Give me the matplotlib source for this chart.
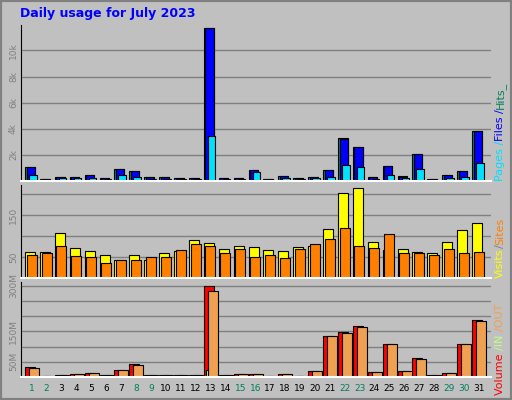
import numpy as np
import matplotlib
matplotlib.use("Agg")
import matplotlib.pyplot as plt
from matplotlib.patches import Rectangle

days = list(range(1, 32))
weekends = [1, 2, 8, 9, 15, 16, 22, 23, 29, 30]

hits = [1.1, 0.15, 0.33, 0.33, 0.49, 0.26, 0.95, 0.8, 0.33, 0.33, 0.26, 0.26, 11.7, 0.26, 0.26,
        0.87, 0.18, 0.41, 0.26, 0.33, 0.87, 3.26, 2.64, 0.33, 1.18, 0.41, 2.1, 0.15, 0.49, 0.8, 3.8]
files = [1.1, 0.15, 0.33, 0.3, 0.49, 0.26, 0.95, 0.8, 0.33, 0.33, 0.26, 0.26, 11.7, 0.26, 0.26,
         0.87, 0.18, 0.41, 0.26, 0.33, 0.87, 3.18, 2.64, 0.33, 1.18, 0.33, 2.1, 0.15, 0.49, 0.8, 3.8]
pages = [0.49, 0.05, 0.23, 0.2, 0.23, 0.18, 0.49, 0.33, 0.18, 0.18, 0.13, 0.15, 3.46, 0.18, 0.18,
         0.7, 0.1, 0.25, 0.18, 0.2, 0.33, 1.26, 1.1, 0.18, 0.49, 0.25, 0.95, 0.1, 0.25, 0.33, 1.41]

visits = [61, 61, 107, 71, 64, 56, 42, 54, 44, 59, 64, 90, 83, 69, 76,
          73, 66, 64, 73, 76, 117, 204, 214, 85, 66, 69, 61, 59, 85, 115, 131]
sites = [56, 59, 76, 52, 49, 37, 42, 42, 49, 49, 66, 81, 76, 59, 69,
         49, 54, 47, 69, 81, 93, 119, 76, 71, 105, 59, 59, 54, 69, 59, 61]

volume = [34, 3, 8, 11, 14, 8, 24, 44, 8, 8, 8, 8, 299, 8, 11,
          11, 4, 11, 4, 21, 136, 147, 167, 18, 110, 21, 64, 8, 14, 110, 187]
vol_out = [31, 3, 8, 11, 14, 8, 24, 41, 8, 8, 8, 8, 281, 8, 11,
           11, 4, 11, 4, 21, 136, 144, 163, 18, 110, 21, 60, 8, 14, 107, 183]
vol_in = [0] * 12 + [22] + [0] * 18

BG = "#C0C0C0"
W, H = 512, 400
fig = plt.figure(figsize=(5.12, 4.0), dpi=100, facecolor=BG)

# outer bevel
fig.patches.append(Rectangle((0, 0), 1, 1, transform=fig.transFigure, fill=False,
                             edgecolor="#808080", linewidth=3))

fig.text(20 / W, 1 - 14 / H, "Daily usage for July 2023", color="#0000FF",
         fontsize=9, fontweight="bold", va="center", ha="left")


def px_axes(left, top, right, bottom):
    return fig.add_axes([left / W, 1 - bottom / H, (right - left) / W, (bottom - top) / H])


x0, x1 = 20.7, 490.7
xlim = (0.71, 32.25)


def style(ax, ymax, ticks, labels):
    ax.set_facecolor(BG)
    ax.set_xlim(*xlim)
    ax.set_ylim(0, ymax)
    ax.set_xticks([])
    ax.set_yticks(ticks)
    ax.set_yticklabels(labels, rotation=90, va="center", fontsize=6.5, color="#808080")
    ax.tick_params(axis="y", length=0, pad=2)
    for t in ticks:
        ax.axhline(t, color="#808080", linewidth=1, zorder=0)
    for s in ax.spines.values():
        s.set_visible(False)
    ax.spines["left"].set_visible(True)
    ax.spines["bottom"].set_visible(True)
    ax.spines["left"].set_color("black")
    ax.spines["bottom"].set_color("white")
    ax.spines["bottom"].set_linewidth(1.5)


def bars(ax, offset, width, vals, color):
    ax.bar([d + offset for d in days], vals, width=width, align="edge",
           color=color, edgecolor="black", linewidth=0.8, zorder=2)


# top: hits / files / pages
ax1 = px_axes(x0, 25, x1, 181)
style(ax1, 11.95, [2, 4, 6, 8, 10], ["2k", "4k", "6k", "8k", "10k"])
bars(ax1, 0.0, 0.65, hits, "#00805C")
bars(ax1, 0.11, 0.54, files, "#0000FF")
bars(ax1, 0.27, 0.51, pages, "#00E0FF")

# middle: visits / sites
ax2 = px_axes(x0, 185, x1, 278)
style(ax2, 222, [50, 100, 150, 200], ["50", "", "150", ""])
bars(ax2, 0.0, 0.67, visits, "#FFFF00")
bars(ax2, 0.11, 0.67, sites, "#FF8000")

# bottom: volume
ax3 = px_axes(x0, 282, x1, 377)
style(ax3, 312, [50, 100, 150, 200, 250, 300], ["50M", "", "150M", "", "", "300M"])
bars(ax3, 0.0, 0.67, volume, "#FF0000")
bars(ax3, 0.13, 0.3, vol_in, "#C0FF80")
bars(ax3, 0.27, 0.67, vol_out, "#EFA050")

for d in days:
    ax3.text(d + 0.45, -0.07, str(d), transform=ax3.get_xaxis_transform(),
             ha="center", va="top", fontsize=6.5,
             color="#00805C" if d in weekends else "black")

# right side legends
fig.canvas.draw()


def vlabel(y_bottom, parts):
    y = y_bottom
    for txt, col in parts:
        t = fig.text(500 / W, 1 - y / H, txt, color=col, rotation=90, fontsize=8,
                     ha="center", va="bottom")
        bb = t.get_window_extent(renderer=fig.canvas.get_renderer())
        y -= bb.height

vlabel(181, [("Pages /", "#00E0FF"), ("Files /", "#0000FF"), ("Hits_", "#00805C")])
vlabel(278, [("Visits", "#FFFF00"), ("/", "#808080"), ("Sites", "#FF8000")])
vlabel(395, [("Volume ", "#FF0000"), ("/IN ", "#C0FF80"), ("/OUT", "#EFA050")])

fig.savefig("out.png", dpi=100, facecolor=BG)
